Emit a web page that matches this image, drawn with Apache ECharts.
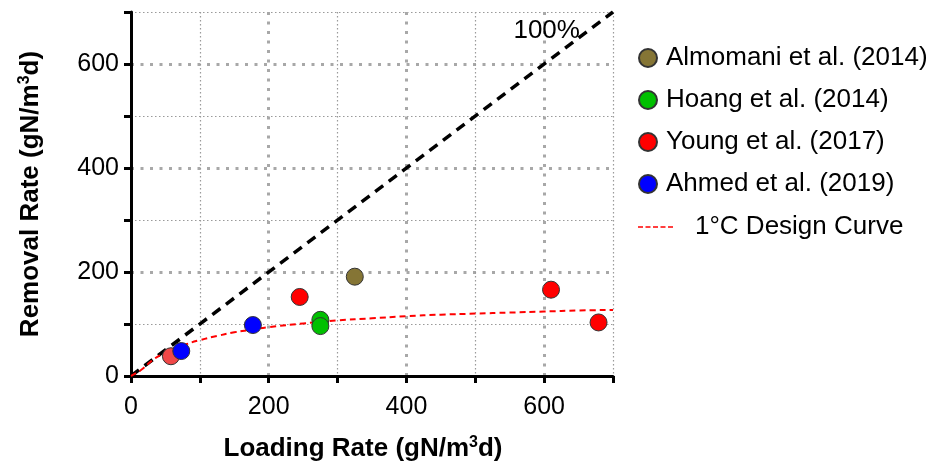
<!DOCTYPE html>
<html>
<head>
<meta charset="utf-8">
<script src="https://cdn.jsdelivr.net/npm/echarts@6/dist/echarts.min.js"></script>
<style>
  html, body { margin: 0; padding: 0; background: #fff; }
  #chart { width: 936px; height: 467px; }
</style>
</head>
<body>
<div id="chart"></div>
<script>
// values
const almomaniX = [325]
const almomaniY = [191]
const hoangX = [275, 275]
const hoangY = [108, 96]
const youngX = [58, 245, 610, 679]
const youngY = [38, 152, 166, 103]
const ahmedX = [73, 177]
const ahmedY = [48, 98]

const curveX = [0, 15, 30, 45, 60, 80, 100, 125, 150, 175, 200, 250, 300, 350, 400, 450, 500, 550, 600, 650, 700]
const curveY = [0, 12, 29, 42, 51, 61, 69, 77, 84, 89, 94, 101, 107, 111, 115, 118, 120, 122, 124, 126, 127]

const unityX = [0, 700]
const unityY = [0, 700]

const axisTicks = [0, 200, 400, 600]

const FONT = 'Liberation Sans, Arial, sans-serif'

function pairs(xs, ys) {
  return xs.map((x, i) => [x, ys[i]])
}

function mainAxis(name, isY) {
  return {
    type: 'value',
    min: 0,
    max: 700,
    interval: 100,
    name,
    nameLocation: 'middle',
    nameGap: isY ? 86 : 59,
    nameTextStyle: {
      fontFamily: FONT,
      fontSize: 26,
      fontWeight: 'bold',
      color: '#000',
      padding: isY ? 0 : [0, 18, 0, 0],
      rich: {
        sup: { fontFamily: FONT, fontSize: 16, fontWeight: 'bold', verticalAlign: 'top', lineHeight: 28 },
      },
    },
    axisLine: { show: true, onZero: false, lineStyle: { color: '#000', width: 3 } },
    axisTick: { show: true, length: 7, lineStyle: { color: '#000', width: 3 } },
    axisLabel: {
      fontFamily: FONT,
      fontSize: 25,
      color: '#000',
      margin: isY ? 12 : 19,
      formatter: v => (axisTicks.includes(v) ? String(v) : ''),
    },
    splitLine: {
      show: true,
      showMinLine: true,
      lineStyle: { color: ['rgba(0,0,0,0)', '#9a9a9a'], width: 1.2, type: [1.5, 2.5] },
    },
  }
}

function majorGridAxis(isY) {
  return {
    type: 'value',
    min: 0,
    max: 700,
    interval: 200,
    position: isY ? 'right' : 'top',
    axisLine: { show: false },
    axisTick: { show: false },
    axisLabel: { show: false },
    splitLine: {
      show: true,
      showMinLine: false,
      showMaxLine: false,
      lineStyle: { color: '#a8a8a8', width: 3, type: [3, 6.5] },
    },
  }
}

const markerStyle = color => ({ color, borderColor: '#333', borderWidth: 1, opacity: 1 })

// the first Young point is paler in the source figure
const youngData = pairs(youngX, youngY).map((d, i) =>
  i === 0 ? { value: d, itemStyle: { color: '#f04848' } } : d
)

const dashIcon = 'path://M0,0h5v1.6h-5z M7.5,0h5v1.6h-5z M15,0h5v1.6h-5z M22.5,0h5v1.6h-5z M30,0h5v1.6h-5z'

const chart = echarts.init(document.getElementById('chart'))
chart.setOption({
  animation: false,
  backgroundColor: '#fff',
  textStyle: { fontFamily: FONT },
  grid: { left: 131, top: 12, right: 323, bottom: 89, containLabel: false },
  xAxis: [mainAxis('Loading Rate (gN/m{sup|3}d)', false), majorGridAxis(false)],
  yAxis: [mainAxis('Removal Rate (gN/m{sup|3}d)', true), majorGridAxis(true)],
  legend: [
    {
      data: ['Almomani et al. (2014)', 'Hoang et al. (2014)', 'Young et al. (2017)', 'Ahmed et al. (2019)'],
      orient: 'vertical',
      left: 638,
      top: 45,
      padding: 0,
      itemGap: 16,
      itemWidth: 26,
      itemHeight: 18,
      icon: 'circle',
      textStyle: { fontFamily: FONT, fontSize: 26, color: '#000' },
    },
    {
      data: [{ name: '1°C Design Curve', icon: dashIcon }],
      orient: 'vertical',
      left: 638,
      top: 214,
      padding: 0,
      itemWidth: 35,
      itemHeight: 14,
      textStyle: { fontFamily: FONT, fontSize: 26, color: '#000', padding: [0, 0, 0, 17] },
    },
  ],
  series: [
    {
      name: '100%',
      type: 'line',
      data: pairs(unityX, unityY),
      symbol: 'circle',
      symbolSize: 0.1,
      showSymbol: true,
      itemStyle: { color: '#000' },
      lineStyle: { color: '#000', width: 3.5, type: [10, 7] },
      label: {
        show: true,
        position: 'left',
        offset: [-28, 19],
        fontFamily: FONT,
        fontSize: 26,
        color: '#000',
        formatter: p => (p.dataIndex === unityX.length - 1 ? '100%' : ''),
      },
      z: 2,
    },
    {
      name: '1°C Design Curve',
      type: 'line',
      data: pairs(curveX, curveY),
      smooth: true,
      symbol: 'none',
      lineStyle: { color: '#ff0000', width: 2, type: [6, 4] },
      itemStyle: { color: '#ff0000' },
      z: 3,
    },
    {
      name: 'Almomani et al. (2014)',
      type: 'scatter',
      data: pairs(almomaniX, almomaniY),
      symbolSize: 17,
      itemStyle: markerStyle('#857535'),
      z: 4,
    },
    {
      name: 'Hoang et al. (2014)',
      type: 'scatter',
      data: pairs(hoangX, hoangY),
      symbolSize: 17,
      itemStyle: markerStyle('#00c000'),
      z: 4,
    },
    {
      name: 'Young et al. (2017)',
      type: 'scatter',
      data: youngData,
      symbolSize: 17,
      itemStyle: markerStyle('#ff0000'),
      z: 4,
    },
    {
      name: 'Ahmed et al. (2019)',
      type: 'scatter',
      data: pairs(ahmedX, ahmedY),
      symbolSize: 17,
      itemStyle: markerStyle('#0000ff'),
      z: 5,
    },
  ],
})
</script>
</body>
</html>
